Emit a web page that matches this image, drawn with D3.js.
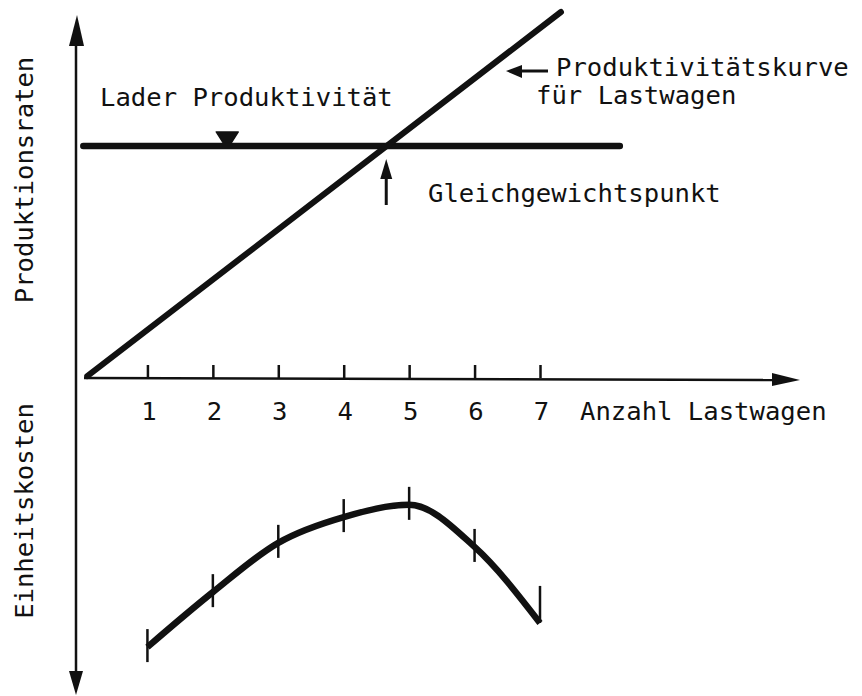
<!DOCTYPE html>
<html>
<head>
<meta charset="utf-8">
<script src="https://cdn.jsdelivr.net/npm/d3@7"></script>
<style>
  body { margin: 0; background: #fff; }
  svg { display: block; }
  text { font-family: "DejaVu Sans Mono", "Liberation Mono", monospace; font-size: 25.6px; fill: #111; }
</style>
</head>
<body>
<div id="chart"></div>
<script>
// Anzahl Lastwagen (x axis)
var trucks = [1, 2, 3, 4, 5, 6, 7];

// upper half: production rates
var truckLineX = [0.08, 7.32];   // Produktivitätskurve für Lastwagen
var truckLineY = [0.05, 10];
var loaderRate = 6.34;           // Lader Produktivität (constant)
var loaderSpan = [0.02, 8.22];
var markerAt = 2.22;             // small triangle on the loader line
var equilibrium = 4.65;          // Gleichgewichtspunkt

// lower half: unit costs (grow downwards)
var unitCost = [8.57, 6.82, 5.25, 4.43, 4.04, 5.38, 7.80];

var labels = {
  yTop: 'Produktionsraten',
  yBottom: 'Einheitskosten',
  x: 'Anzahl Lastwagen',
  loader: 'Lader Produktivität',
  truck1: 'Produktivitätskurve',
  truck2: 'für Lastwagen',
  eq: 'Gleichgewichtspunkt'
};

var width = 862,
    height = 696,
    axisX = 76,
    axisY = 378;

var xScale = d3.scaleLinear()
    .domain([0, 7])
    .range([82, 540]);

var rateScale = d3.scaleLinear()
    .domain([0, 10])
    .range([axisY, 12]);

var costScale = d3.scaleLinear()
    .domain([0, 10])
    .range([axisY, 692]);

var svg = d3.select('#chart').append('svg')
    .attr('width', width)
    .attr('height', height);

// ---- axes ----
// vertical axis, arrow both ways
svg.append('line')
    .attr('x1', axisX).attr('x2', axisX)
    .attr('y1', 40).attr('y2', 675)
    .style('stroke', '#111')
    .style('stroke-width', 2.5);

svg.append('path')
    .attr('d', 'M' + (axisX + 1) + ',15 L' + (axisX - 7) + ',46 L' + (axisX + 8) + ',46 Z')
    .style('fill', '#111');

svg.append('path')
    .attr('d', 'M' + axisX + ',695 L' + (axisX - 7) + ',671 L' + (axisX + 7) + ',671 Z')
    .style('fill', '#111');

// horizontal axis with arrow
svg.append('line')
    .attr('x1', 84).attr('x2', 780)
    .attr('y1', axisY).attr('y2', axisY + 2)
    .style('stroke', '#111')
    .style('stroke-width', 2.5);

svg.append('path')
    .attr('d', 'M800,' + (axisY + 2) + ' L772,' + (axisY - 5) + ' L772,' + (axisY + 8) + ' Z')
    .style('fill', '#111');

var xAxis = d3.axisBottom(xScale)
    .tickValues(trucks)
    .tickSizeInner(-13)
    .tickSizeOuter(0)
    .tickPadding(24)
    .tickFormat(d3.format('d'));

var xGuide = svg.append('g')
    .attr('transform', 'translate(0,' + axisY + ')')
    .call(xAxis);
xGuide.select('.domain').remove();
xGuide.selectAll('line')
    .style('stroke', '#111')
    .style('stroke-width', 2.5);
xGuide.selectAll('text')
    .attr('x', 1)
    .style('font-family', '"DejaVu Sans Mono", monospace')
    .style('font-size', '25.6px')
    .style('fill', '#111');

svg.append('text')
    .attr('x', 580)
    .attr('y', 420)
    .text(labels.x);

svg.append('text')
    .attr('transform', 'translate(33,180) rotate(-90)')
    .attr('text-anchor', 'middle')
    .text(labels.yTop);

svg.append('text')
    .attr('transform', 'translate(33,511) rotate(-90)')
    .attr('text-anchor', 'middle')
    .text(labels.yBottom);

// ---- upper half ----
svg.append('line')
    .attr('x1', xScale(loaderSpan[0])).attr('x2', xScale(loaderSpan[1]))
    .attr('y1', rateScale(loaderRate)).attr('y2', rateScale(loaderRate))
    .style('stroke', '#111')
    .style('stroke-width', 6.5)
    .style('stroke-linecap', 'round');

svg.append('path')
    .attr('transform', 'translate(' + xScale(markerAt) + ',' + (rateScale(loaderRate) - 3) + ')')
    .attr('d', 'M-11,-11 L11,-11 L4,0 L-4,0 Z')
    .style('fill', '#111')
    .style('stroke', '#111')
    .style('stroke-width', 1.5)
    .style('stroke-linejoin', 'round');

var truckLine = d3.line()
    .x(function(d) { return xScale(d[0]); })
    .y(function(d) { return rateScale(d[1]); });

svg.append('path')
    .datum(d3.zip(truckLineX, truckLineY))
    .attr('d', truckLine)
    .style('fill', 'none')
    .style('stroke', '#111')
    .style('stroke-width', 6)
    .style('stroke-linecap', 'round');

svg.append('text')
    .attr('x', 100)
    .attr('y', 106)
    .text(labels.loader);

svg.append('text')
    .attr('x', 556)
    .attr('y', 76)
    .text(labels.truck1);

svg.append('text')
    .attr('x', 536)
    .attr('y', 104)
    .text(labels.truck2);

// arrow pointing at the truck line
svg.append('line')
    .attr('x1', 518).attr('x2', 548)
    .attr('y1', 71).attr('y2', 71)
    .style('stroke', '#111')
    .style('stroke-width', 3);
svg.append('path')
    .attr('d', 'M506,71 L522,65 L522,78 Z')
    .style('fill', '#111');

// equilibrium arrow
var eqX = xScale(equilibrium);
svg.append('line')
    .attr('x1', eqX).attr('x2', eqX)
    .attr('y1', 176).attr('y2', 205)
    .style('stroke', '#111')
    .style('stroke-width', 3);
svg.append('path')
    .attr('d', 'M' + eqX + ',159 L' + (eqX - 6) + ',179 L' + (eqX + 6) + ',179 Z')
    .style('fill', '#111');

svg.append('text')
    .attr('x', 428)
    .attr('y', 202)
    .text(labels.eq);

// ---- lower half: unit costs ----
var costLine = d3.line()
    .x(function(d, i) { return xScale(trucks[i]); })
    .y(function(d) { return costScale(d); })
    .curve(d3.curveMonotoneX);

svg.append('path')
    .datum(unitCost)
    .attr('d', costLine)
    .style('fill', 'none')
    .style('stroke', '#111')
    .style('stroke-width', 6.5)
    .style('stroke-linejoin', 'round');

svg.selectAll('.costTick')
    .data(unitCost)
    .enter()
    .append('line')
    .attr('class', 'costTick')
    .attr('x1', function(d, i) { return xScale(trucks[i]); })
    .attr('x2', function(d, i) { return xScale(trucks[i]); })
    .attr('y1', function(d, i) { return i == unitCost.length - 1 ? costScale(d) - 37 : costScale(d) - 18; })
    .attr('y2', function(d, i) { return i == unitCost.length - 1 ? costScale(d) : costScale(d) + 15; })
    .style('stroke', '#111')
    .style('stroke-width', 2.5);
</script>
</body>
</html>
